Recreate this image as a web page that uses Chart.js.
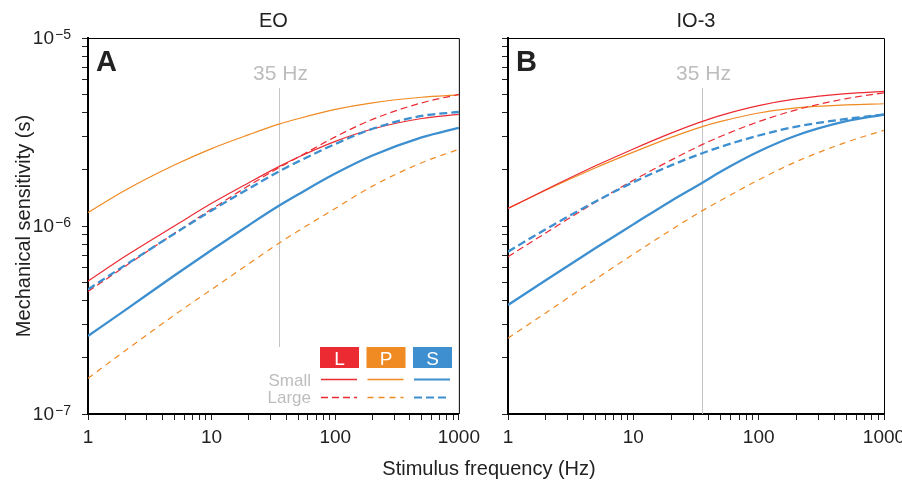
<!DOCTYPE html>
<html>
<head>
<meta charset="utf-8">
<script src="https://cdn.jsdelivr.net/npm/chart.js@4.4.1/dist/chart.umd.min.js"></script>
<style>
  body { margin: 0; background: #fff; width: 902px; height: 487px; overflow: hidden; position: relative; }
  canvas { position: absolute; top: 0; }
  #chartA { left: 0; }
  #chartB { left: 486px; }
  #xTitle { position: absolute; left: 0; width: 978px; top: 457px; text-align: center;
            font: 20px "Liberation Sans", Arial, sans-serif; color: #222; }
</style>
</head>
<body>
<canvas id="chartA" width="486" height="487"></canvas>
<canvas id="chartB" width="430" height="487"></canvas>
<div id="xTitle">Stimulus frequency (Hz)</div>
<script>
// stimulus frequencies (Hz) where the curves were read
const freqs = [1, 2, 5, 10, 20, 35, 50, 100, 200, 500, 1000];

// panel A: EO
const eoLSmall = [5.09e-7, 6.90e-7, 1.00e-6, 1.32e-6, 1.70e-6, 2.07e-6, 2.32e-6, 2.82e-6, 3.28e-6, 3.73e-6, 3.92e-6];
const eoLLarge = [4.48e-7, 6.11e-7, 9.14e-7, 1.23e-6, 1.64e-6, 2.04e-6, 2.32e-6, 2.98e-6, 3.69e-6, 4.52e-6, 5.01e-6];
const eoPSmall = [1.18e-6, 1.55e-6, 2.11e-6, 2.58e-6, 3.06e-6, 3.48e-6, 3.72e-6, 4.17e-6, 4.52e-6, 4.84e-6, 4.98e-6];
const eoPLarge = [1.55e-7, 2.17e-7, 3.36e-7, 4.60e-7, 6.30e-7, 8.10e-7, 9.40e-7, 1.24e-6, 1.63e-6, 2.17e-6, 2.56e-6];
const eoSSmall = [2.60e-7, 3.57e-7, 5.45e-7, 7.45e-7, 1.01e-6, 1.28e-6, 1.47e-6, 1.90e-6, 2.37e-6, 2.96e-6, 3.33e-6];
const eoSLarge = [4.60e-7, 6.19e-7, 9.10e-7, 1.21e-6, 1.58e-6, 1.95e-6, 2.20e-6, 2.73e-6, 3.29e-6, 3.85e-6, 4.04e-6];

// panel B: IO-3
const ioLSmall = [1.24e-6, 1.56e-6, 2.09e-6, 2.57e-6, 3.12e-6, 3.59e-6, 3.88e-6, 4.37e-6, 4.74e-6, 5.06e-6, 5.20e-6];
const ioLLarge = [6.87e-7, 9.18e-7, 1.34e-6, 1.75e-6, 2.24e-6, 2.70e-6, 3.00e-6, 3.59e-6, 4.15e-6, 4.76e-6, 5.11e-6];
const ioPSmall = [1.24e-6, 1.55e-6, 2.04e-6, 2.47e-6, 2.96e-6, 3.37e-6, 3.60e-6, 3.99e-6, 4.25e-6, 4.41e-6, 4.47e-6];
const ioPLarge = [2.53e-7, 3.45e-7, 5.21e-7, 7.08e-7, 9.53e-7, 1.20e-6, 1.37e-6, 1.76e-6, 2.20e-6, 2.79e-6, 3.23e-6];
const ioSSmall = [3.80e-7, 5.15e-7, 7.64e-7, 1.02e-6, 1.36e-6, 1.69e-6, 1.95e-6, 2.49e-6, 3.03e-6, 3.61e-6, 3.92e-6];
const ioSLarge = [7.30e-7, 9.62e-7, 1.35e-6, 1.71e-6, 2.10e-6, 2.43e-6, 2.64e-6, 3.03e-6, 3.38e-6, 3.71e-6, 3.92e-6];

// axes
const xTicks = [1,2,3,4,5,6,7,8,9,10,20,30,40,50,60,70,80,90,100,200,300,400,500,600,700,800,900,1000];
const xTickLabels = ['1', '10', '100', '1000'];
const yTicks = [1e-7,2e-7,3e-7,4e-7,5e-7,6e-7,7e-7,8e-7,9e-7,1e-6,2e-6,3e-6,4e-6,5e-6,6e-6,7e-6,8e-6,9e-6,1e-5];
const yMajor = [1e-5, 1e-6, 1e-7];
const yMajorExp = ['\u22125', '\u22126', '\u22127'];
const markFreq = 35;

const RED = '#ec2a32', ORANGE = '#f08a22', BLUE = '#3d8fcf';
const FONT = '"Liberation Sans", Arial, sans-serif';
Chart.defaults.font.family = FONT;

function lineSets(sSmall, sLarge, lSmall, lLarge, pSmall, pLarge) {
    const pts = arr => arr.map((v, i) => ({ x: freqs[i], y: v }));
    const base = { pointRadius: 0, fill: false, cubicInterpolationMode: 'monotone' };
    return [
        { ...base, label: 'S small', data: pts(sSmall), borderColor: BLUE, borderWidth: 2.3 },
        { ...base, label: 'S large', data: pts(sLarge), borderColor: BLUE, borderWidth: 2.3, borderDash: [8, 4] },
        { ...base, label: 'L small', data: pts(lSmall), borderColor: RED, borderWidth: 1.2 },
        { ...base, label: 'L large', data: pts(lLarge), borderColor: RED, borderWidth: 1.2, borderDash: [7, 4] },
        { ...base, label: 'P small', data: pts(pSmall), borderColor: ORANGE, borderWidth: 1.2 },
        { ...base, label: 'P large', data: pts(pLarge), borderColor: ORANGE, borderWidth: 1.2, borderDash: [6, 5] }
    ];
}

const decor = {
    id: 'decor',
    beforeDatasetsDraw(chart, args, o) {
        const { ctx, chartArea: a, scales: { x } } = chart;
        const px = Math.round(x.getPixelForValue(markFreq)) + 0.5;
        ctx.save();
        ctx.strokeStyle = '#c4c4c4';
        ctx.lineWidth = 1;
        ctx.beginPath();
        ctx.moveTo(px, 88);
        ctx.lineTo(px, o.lineEnd || a.bottom);
        ctx.stroke();
        ctx.fillStyle = '#bdbdbd';
        ctx.font = '21px ' + FONT;
        ctx.textAlign = 'center';
        ctx.textBaseline = 'alphabetic';
        ctx.fillText(markFreq + ' Hz', px + 1, 80);
        ctx.restore();
    },
    afterDraw(chart, args, o) {
        const { ctx, chartArea: a, scales: { y } } = chart;
        ctx.save();
        // box top / right
        ctx.strokeStyle = '#000';
        ctx.lineWidth = 1;
        ctx.beginPath();
        ctx.moveTo(a.left, a.top + 0.5);
        ctx.lineTo(a.right + 0.5, a.top + 0.5);
        ctx.lineTo(a.right + 0.5, a.bottom);
        ctx.stroke();
        // panel title and letter
        ctx.fillStyle = '#222';
        ctx.font = '20px ' + FONT;
        ctx.textAlign = 'center';
        ctx.textBaseline = 'alphabetic';
        ctx.fillText(o.title, (a.left + a.right) / 2, 27);
        ctx.font = 'bold 29px ' + FONT;
        ctx.textAlign = 'left';
        ctx.fillText(o.letter, a.left + 8, 71);
        // y tick labels with exponents
        if (o.yLabels) {
            yMajor.forEach((v, i) => {
                const py = y.getPixelForValue(v);
                ctx.fillStyle = '#222';
                ctx.font = '19px ' + FONT;
                ctx.textAlign = 'right';
                ctx.fillText('10', 54, py + 6);
                ctx.font = '14px ' + FONT;
                ctx.textAlign = 'left';
                ctx.fillText(yMajorExp[i], 55, py + 1);
            });
        }
        // legend
        if (o.legend) {
            const keys = [['L', RED, [7, 4]], ['P', ORANGE, [6, 5]], ['S', BLUE, [8, 4]]];
            keys.forEach(([t, c, dash], i) => {
                const bx = 320 + i * 46.5;
                ctx.fillStyle = c;
                ctx.fillRect(bx, 347, 39, 21);
                ctx.fillStyle = '#fff';
                ctx.font = '19px ' + FONT;
                ctx.textAlign = 'center';
                ctx.fillText(t, bx + 19.5, 365);
                ctx.strokeStyle = c;
                ctx.lineWidth = t === 'S' ? 2 : 1.5;
                ctx.setLineDash([]);
                ctx.beginPath(); ctx.moveTo(bx + 1, 379.5); ctx.lineTo(bx + 37, 379.5); ctx.stroke();
                ctx.setLineDash(dash);
                ctx.beginPath(); ctx.moveTo(bx + 1, 397.5); ctx.lineTo(bx + 37, 397.5); ctx.stroke();
                ctx.setLineDash([]);
            });
            ctx.fillStyle = '#bdbdbd';
            ctx.font = '17px ' + FONT;
            ctx.textAlign = 'right';
            ctx.fillText('Small', 311, 386);
            ctx.fillText('Large', 311, 403);
        }
        ctx.restore();
    }
};

function makeChart(id, sets, opts) {
    return new Chart(document.getElementById(id), {
        type: 'line',
        data: { datasets: sets },
        plugins: [decor],
        options: {
            responsive: false,
            animation: false,
            devicePixelRatio: 1,
            layout: { padding: { left: 0, right: opts.padRight, top: 38, bottom: 0 } },
            plugins: {
                legend: { display: false },
                tooltip: { enabled: false },
                decor: opts.decor
            },
            scales: {
                x: {
                    type: 'logarithmic', min: 1, max: 1000,
                    afterBuildTicks: s => { s.ticks = xTicks.map(v => ({ value: v })); },
                    afterFit: s => { s.height = 73; },
                    ticks: {
                        autoSkip: false, maxRotation: 0, padding: 6, color: '#222',
                        font: { size: 19 },
                        callback: v => xTickLabels.includes(String(v)) ? String(v) : ''
                    },
                    grid: { drawOnChartArea: false, tickLength: 6, tickColor: '#222' },
                    border: { color: '#000', width: 2 }
                },
                y: {
                    type: 'logarithmic', min: 1e-7, max: 1e-5,
                    afterBuildTicks: s => { s.ticks = yTicks.map(v => ({ value: v })); },
                    afterFit: s => { s.width = opts.yWidth; },
                    ticks: { callback: () => '' },
                    grid: { drawOnChartArea: false, tickLength: 6, tickColor: '#222' },
                    border: { color: '#000', width: 2 },
                    title: {
                        display: opts.yTitle, text: 'Mechanical sensitivity (s)',
                        color: '#222', font: { size: 20 }, padding: { top: 12, bottom: 0 }
                    }
                }
            }
        }
    });
}

makeChart('chartA', lineSets(eoSSmall, eoSLarge, eoLSmall, eoLLarge, eoPSmall, eoPLarge), {
    padRight: 22, yWidth: 88, yTitle: true,
    decor: { title: 'EO', letter: 'A', yLabels: true, legend: true, lineEnd: 347 }
});
makeChart('chartB', lineSets(ioSSmall, ioSLarge, ioLSmall, ioLLarge, ioPSmall, ioPLarge), {
    padRight: 32, yWidth: 22, yTitle: false,
    decor: { title: 'IO-3', letter: 'B', yLabels: false, legend: false }
});
</script>
</body>
</html>
